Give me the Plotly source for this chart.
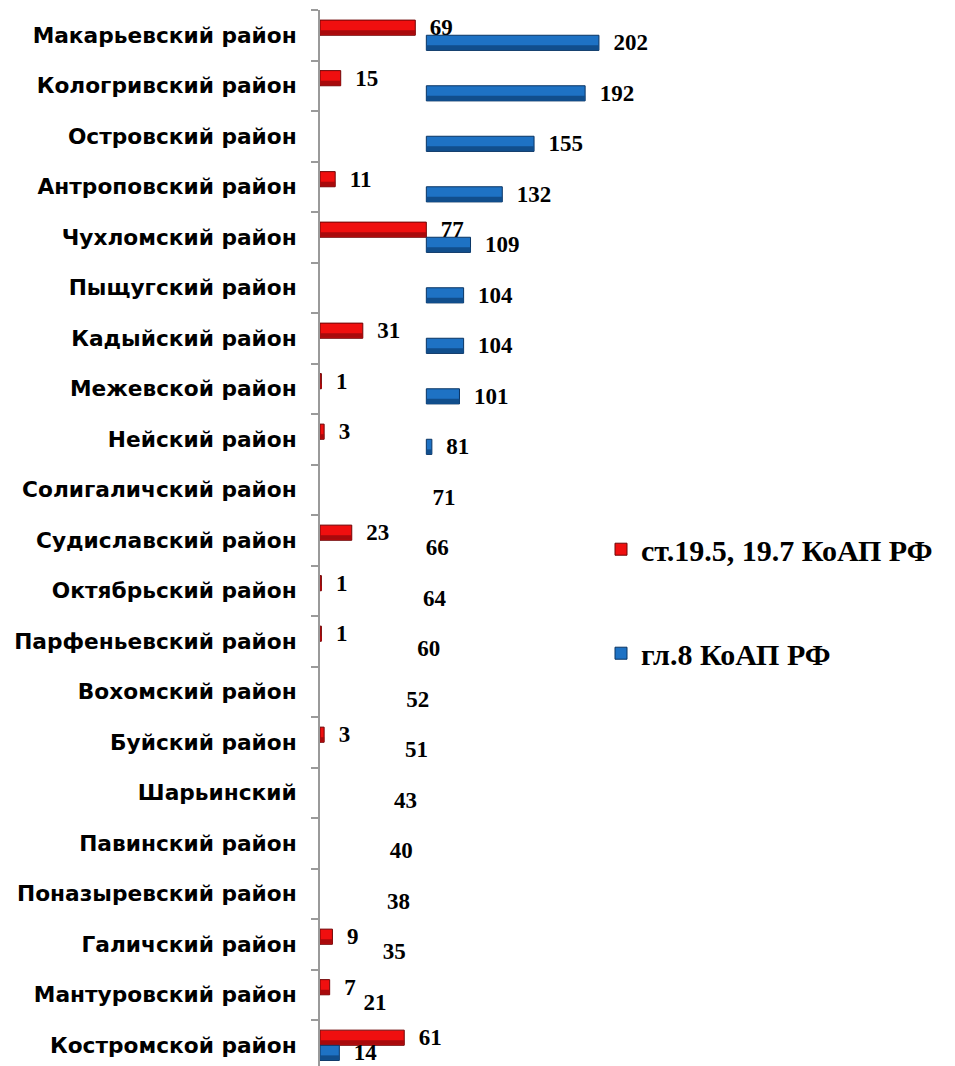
import plotly.graph_objects as go

categories = [
    "Макарьевский район", "Кологривский район", "Островский район",
    "Антроповский район", "Чухломский район", "Пыщугский район",
    "Кадыйский район", "Межевской район", "Нейский район",
    "Солигаличский район", "Судиславский район", "Октябрьский район",
    "Парфеньевский район", "Вохомский район", "Буйский район",
    "Шарьинский", "Павинский район", "Поназыревский район",
    "Галичский район", "Мантуровский район", "Костромской район",
]
red_values = [69, 15, None, 11, 77, None, 31, 1, 3, None, 23, 1, 1, None, 3,
              None, None, None, 9, 7, 61]
blue_values = [202, 192, 155, 132, 109, 104, 104, 101, 81, 71, 66, 64, 60, 52,
               51, 43, 40, 38, 35, 21, 14]
# rows where the front part of the blue bar is hidden behind the 3-D floor
blue_clipped = [True] * 20 + [False]

red_name = "ст.19.5, 19.7 КоАП РФ"
blue_name = "гл.8 КоАП РФ"

HIDE = 77
RED = "#F00F0F"
RED_DARK = "#A80A0C"
RED_EDGE = "#6E0607"
BLUE = "#1E72C4"
BLUE_DARK = "#114E8C"
BLUE_EDGE = "#0A3463"
LABEL_FONT = dict(family="Liberation Serif", size=23, color="black", weight="bold")

blue_base = [min(v, HIDE) if c else 0 for v, c in zip(blue_values, blue_clipped)]
blue_len = [(v - b) if v > b else None for v, b in zip(blue_values, blue_base)]

fig = go.Figure()
# red series
fig.add_trace(go.Bar(
    y=categories, x=red_values, orientation="h", name=red_name,
    legendgroup="a", width=0.3, offset=-0.3,
    marker=dict(color=RED, line=dict(color=RED_EDGE, width=1)),
    text=["\u2002" + str(v) if v is not None else "" for v in red_values],
    textposition="outside", textfont=LABEL_FONT, constraintext="none",
    cliponaxis=False, hoverinfo="skip",
))
fig.add_trace(go.Bar(  # lower shading band of the red bars
    y=categories, x=red_values, orientation="h", showlegend=False,
    legendgroup="a", width=0.09, offset=-0.1,
    marker=dict(color=RED_DARK, line=dict(width=0)),
    cliponaxis=False, hoverinfo="skip",
))
# blue series (visible part)
fig.add_trace(go.Bar(
    y=categories, x=blue_len, base=blue_base, orientation="h", name=blue_name,
    legendgroup="b", width=0.3, offset=0.0,
    marker=dict(color=BLUE, line=dict(color=BLUE_EDGE, width=1)),
    hoverinfo="skip", cliponaxis=False,
))
fig.add_trace(go.Bar(  # lower shading band of the blue bars
    y=categories, x=blue_len, base=blue_base, orientation="h", showlegend=False,
    legendgroup="b", width=0.09, offset=0.2,
    marker=dict(color=BLUE_DARK, line=dict(width=0)),
    hoverinfo="skip", cliponaxis=False,
))
# blue value labels at the full value
fig.add_trace(go.Bar(
    y=categories, x=blue_values, orientation="h", showlegend=False,
    legendgroup="b", width=0.3, offset=0.0,
    marker=dict(color="rgba(0,0,0,0)", line=dict(width=0)),
    text=["\u2002" + str(v) for v in blue_values],
    textposition="outside", textfont=LABEL_FONT, constraintext="none",
    cliponaxis=False, hoverinfo="skip",
))

fig.update_layout(
    width=947, height=1058,
    margin=dict(l=312, r=345, t=2, b=0),
    paper_bgcolor="white", plot_bgcolor="white",
    barmode="overlay",
    showlegend=True,
    legend=dict(
        x=0.969, xanchor="left", y=0.514, yanchor="top",
        traceorder="grouped", tracegroupgap=62,
        font=dict(family="Liberation Serif", size=30, color="black", weight="bold"),
        bgcolor="rgba(0,0,0,0)",
    ),
    xaxis=dict(range=[0, 210], visible=False, showgrid=False, zeroline=False),
    yaxis=dict(
        type="category", categoryorder="array", categoryarray=categories,
        range=[20.41, -0.5],
        showline=True, linecolor="#9a9a9a", linewidth=2,
        ticks="outside", tickson="boundaries", ticklen=7, tickwidth=2,
        tickcolor="#9a9a9a",
        tickfont=dict(family="DejaVu Sans", size=21.7, color="black", weight="bold"),
        ticklabelstandoff=17,
        showgrid=False, zeroline=False,
    ),
)

fig.write_html("out.html")
